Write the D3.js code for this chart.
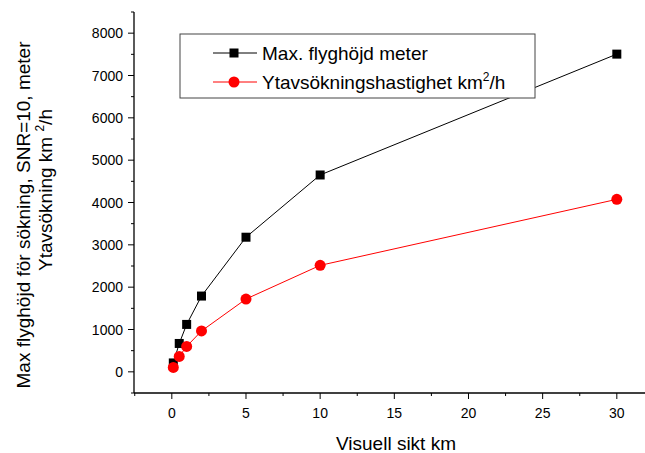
<!DOCTYPE html>
<html>
<head>
<meta charset="utf-8">
<script src="https://cdn.jsdelivr.net/npm/d3@7"></script>
<style>
  body { margin: 0; background: #fff; }
  svg text { font-family: "Liberation Sans", Arial, sans-serif; fill: #000; }
</style>
</head>
<body>
<div id="chart"></div>
<script>
// data
const sikt = [0.1, 0.5, 1, 2, 5, 10, 30];
const flyghojd = [210, 670, 1120, 1790, 3180, 4650, 7505];
const ytavsokning = [105, 365, 600, 965, 1720, 2515, 4075];
const xTicks = [0, 5, 10, 15, 20, 25, 30];
const yTicks = [0, 1000, 2000, 3000, 4000, 5000, 6000, 7000, 8000];

const width = 645, height = 453;
const svg = d3.select("#chart").append("svg")
  .attr("width", width)
  .attr("height", height);

// plot area
const x = d3.scaleLinear().domain([-2.55, 31.9]).range([134, 645]);
const y = d3.scaleLinear().domain([-500, 8500]).range([393, 12]);

// x axis
const xAxis = svg.append("g").attr("transform", "translate(0," + y(-500) + ")");
xAxis.append("line")
  .attr("x1", x.range()[0]).attr("x2", x.range()[1])
  .attr("stroke", "#000").attr("stroke-width", 1.3);
xAxis.selectAll(".minor").data(d3.range(-2.5, 32, 2.5).filter(d => d % 5 !== 0))
  .enter().append("line")
  .attr("x1", d => x(d)).attr("x2", d => x(d))
  .attr("y1", 0).attr("y2", 3)
  .attr("stroke", "#000");
xAxis.selectAll(".major").data(xTicks).enter().append("line")
  .attr("x1", d => x(d)).attr("x2", d => x(d))
  .attr("y1", 0).attr("y2", 6)
  .attr("stroke", "#000");
xAxis.selectAll("text").data(xTicks).enter().append("text")
  .attr("x", d => x(d)).attr("y", 25)
  .attr("text-anchor", "middle")
  .attr("font-size", 14)
  .text(d => d);

// y axis
const yAxis = svg.append("g").attr("transform", "translate(" + x(-2.55) + ",0)");
yAxis.append("line")
  .attr("y1", y.range()[0]).attr("y2", y.range()[1])
  .attr("stroke", "#000").attr("stroke-width", 1.3);
yAxis.selectAll(".minor").data(d3.range(-500, 8501, 500).filter(d => d % 1000 !== 0))
  .enter().append("line")
  .attr("y1", d => y(d)).attr("y2", d => y(d))
  .attr("x1", 0).attr("x2", -3)
  .attr("stroke", "#000");
yAxis.selectAll(".major").data(yTicks).enter().append("line")
  .attr("y1", d => y(d)).attr("y2", d => y(d))
  .attr("x1", 0).attr("x2", -6)
  .attr("stroke", "#000");
yAxis.selectAll("text").data(yTicks).enter().append("text")
  .attr("x", -11).attr("y", d => y(d) + 5)
  .attr("text-anchor", "end")
  .attr("font-size", 14)
  .text(d => d);

// axis titles
svg.append("text")
  .attr("x", 396).attr("y", 450)
  .attr("text-anchor", "middle")
  .attr("font-size", 19)
  .text("Visuell sikt km");

const yTitle = svg.append("g").attr("transform", "rotate(-90)");
yTitle.append("text")
  .attr("x", -215).attr("y", 30)
  .attr("text-anchor", "middle")
  .attr("font-size", 19)
  .text("Max flyghöjd för sökning, SNR=10, meter");
const t2 = yTitle.append("text")
  .attr("x", -190).attr("y", 52)
  .attr("text-anchor", "middle")
  .attr("font-size", 19);
t2.append("tspan").text("Ytavsökning km ");
t2.append("tspan").attr("font-size", 12).attr("dy", -8).text("2");
t2.append("tspan").attr("dy", 8).text("/h");

// series
const line = d3.line().x((d, i) => x(sikt[i])).y(d => y(d));

svg.append("path").datum(flyghojd)
  .attr("d", line).attr("fill", "none")
  .attr("stroke", "#000").attr("stroke-width", 1);
svg.append("path").datum(ytavsokning)
  .attr("d", line).attr("fill", "none")
  .attr("stroke", "#ff0000").attr("stroke-width", 1);

svg.selectAll(".sq").data(flyghojd).enter().append("rect")
  .attr("x", (d, i) => x(sikt[i]) - 4.5)
  .attr("y", d => y(d) - 4.5)
  .attr("width", 9).attr("height", 9)
  .attr("fill", "#000");
svg.selectAll(".dot").data(ytavsokning).enter().append("circle")
  .attr("cx", (d, i) => x(sikt[i]))
  .attr("cy", d => y(d))
  .attr("r", 5.5)
  .attr("fill", "#ff0000");

// legend
const legend = svg.append("g").attr("transform", "translate(180,34)");
legend.append("rect")
  .attr("width", 355).attr("height", 64)
  .attr("fill", "#fff").attr("stroke", "#444").attr("stroke-width", 1);

const legendItems = [
  { label: "Max. flyghöjd meter", color: "#000", shape: "square" },
  { label: "Ytavsökning", color: "#ff0000", shape: "circle" }
];
legendItems.forEach((item, i) => {
  const cy = 19 + i * 29;
  legend.append("line")
    .attr("x1", 33).attr("x2", 77).attr("y1", cy).attr("y2", cy)
    .attr("stroke", item.color).attr("stroke-width", 1);
  if (item.shape === "square") {
    legend.append("rect").attr("x", 49.5).attr("y", cy - 4.5)
      .attr("width", 9).attr("height", 9).attr("fill", item.color);
  } else {
    legend.append("circle").attr("cx", 54).attr("cy", cy)
      .attr("r", 5.5).attr("fill", item.color);
  }
  const txt = legend.append("text")
    .attr("x", 82).attr("y", cy + 7)
    .attr("font-size", 19);
  if (i === 0) {
    txt.text(item.label);
  } else {
    txt.append("tspan").text("Ytavsökningshastighet km");
    txt.append("tspan").attr("font-size", 12).attr("dy", -8).text("2");
    txt.append("tspan").attr("dy", 8).text("/h");
  }
});
</script>
</body>
</html>
